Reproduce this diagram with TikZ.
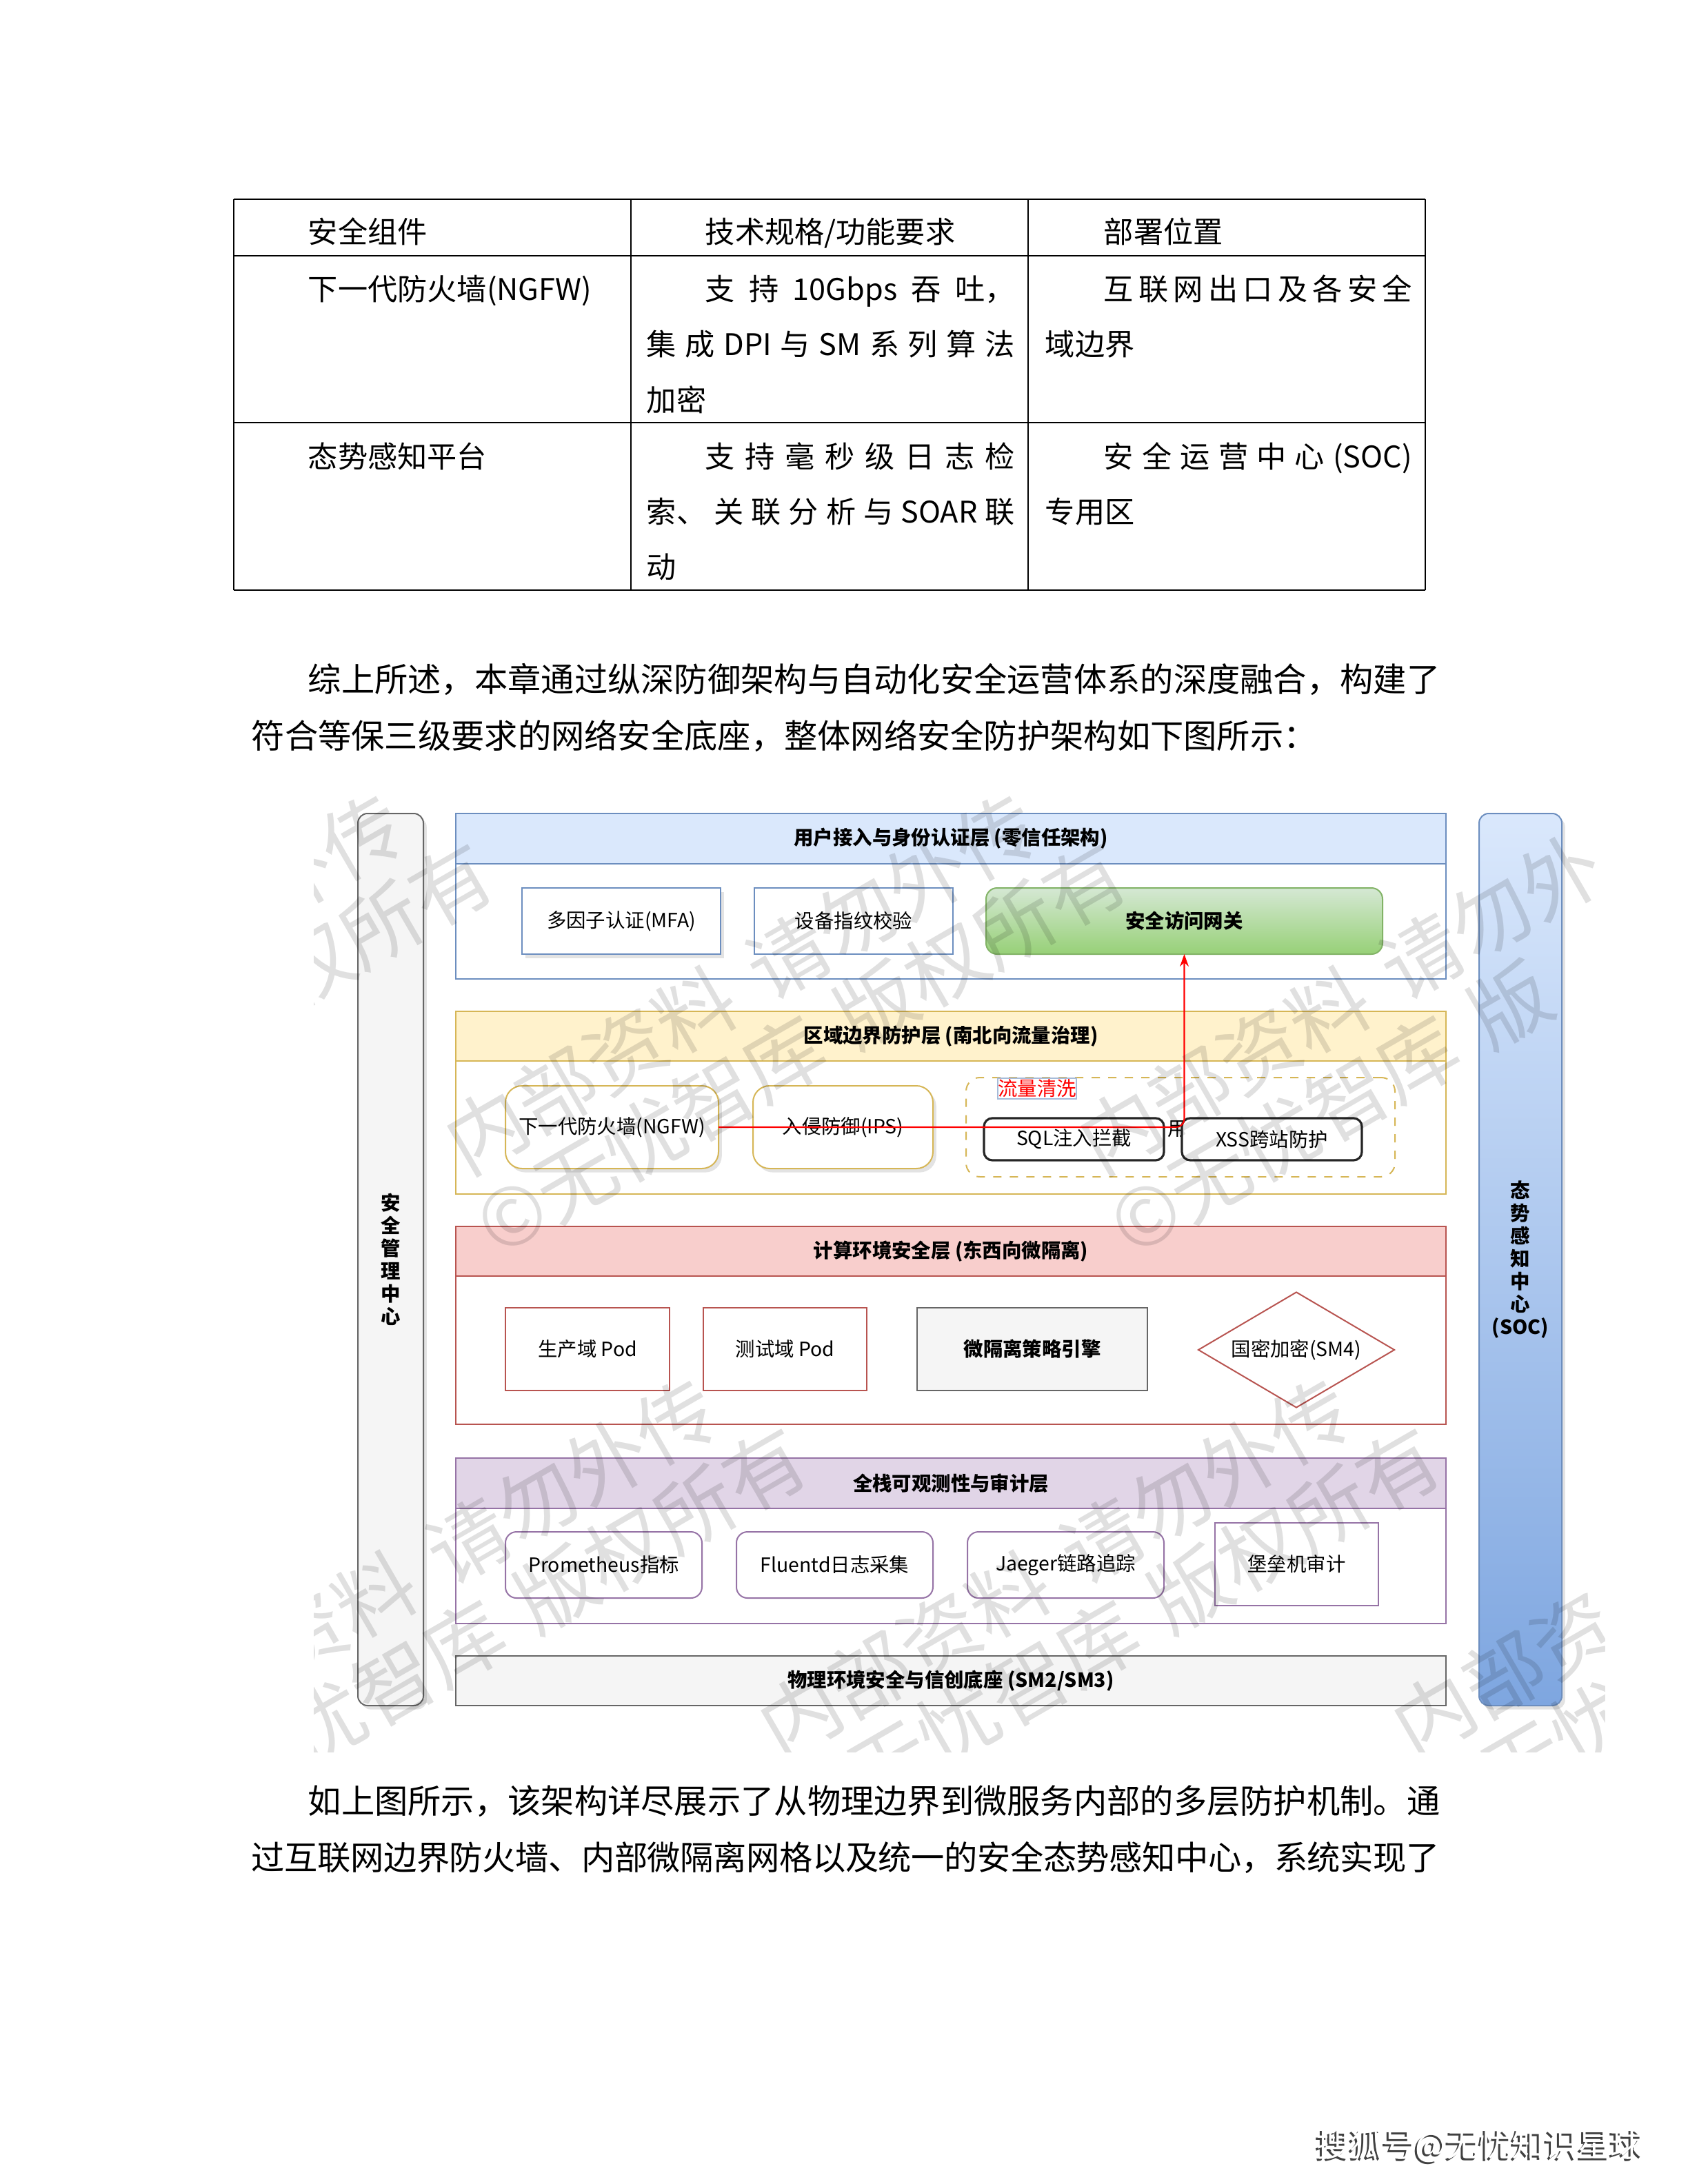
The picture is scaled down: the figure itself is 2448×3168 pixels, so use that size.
\documentclass[tikz,border=0pt]{standalone}
\usepackage{fontspec}
\setmainfont{Noto Sans CJK SC}
\usetikzlibrary{shadows,shapes.geometric,arrows.meta,calc}
\definecolor{bluef}{HTML}{DAE8FC}\definecolor{blues}{HTML}{6C8EBF}\definecolor{blueb}{HTML}{7EA6E0}
\definecolor{yelf}{HTML}{FFF2CC}\definecolor{yels}{HTML}{D6B656}
\definecolor{redf}{HTML}{F8CECC}\definecolor{reds}{HTML}{B85450}
\definecolor{purf}{HTML}{E1D5E7}\definecolor{purs}{HTML}{9673A6}
\definecolor{grayf}{HTML}{F5F5F5}\definecolor{grays}{HTML}{666666}
\definecolor{greenf}{HTML}{D5E8D4}\definecolor{greenb}{HTML}{97D077}\definecolor{greens}{HTML}{82B366}
\newcommand{\mytfont}{\fontsize{10.8pt}{13pt}\selectfont}
\newcommand{\mypfont}{\fontsize{12.07pt}{15pt}\selectfont}
\newcommand{\mydfont}{\fontsize{7.1pt}{8.25pt}\selectfont}
\newcommand{\mywfont}{\fontsize{29pt}{34pt}\selectfont}
\newcommand{\myffont}{\fontsize{11.9pt}{14pt}\selectfont}
% style, name, x1, y1, x2, y2, text
\newcommand{\mkbox}[7]{\node[#1, minimum width={(#5-#3)*0.25pt}, minimum height={(#6-#4)*0.25pt}] (#2) at ({(#3+#5)/2},{(#4+#6)/2}) {#7};}
\newcommand{\jl}[5]{\node[ttext] (#1) at (#2,#3) {\hbox to #4{#5}};}
% watermark tile: name, x, y, line1, line2
\newcommand{\wmk}[5]{\node[wm] (#1a) at (#2,#3) {#4};\node[wm] (#1b) at ({#2+45},{#3+118}) {#5};}
\begin{document}
\begin{tikzpicture}[x=0.25pt,y=-0.25pt,
  tbl/.style={line width=0.7pt,draw=black},
  tvl/.style={line width=0.5pt,draw=black},
  ttext/.style={anchor=base west,inner sep=0pt,font=\mytfont},
  ptext/.style={anchor=base west,inner sep=0pt,font=\mypfont},
  bx/.style={draw,inner sep=0pt,outer sep=0pt,line width=0.5pt,font=\mydfont,align=center,fill=white},
  shd/.style={drop shadow={shadow xshift=1.2pt,shadow yshift=-1.4pt,opacity=0.22}},
  redline/.style={draw=red,line width=0.55pt},
  wm/.style={font=\mywfont,text=black,text opacity=0.12,inner sep=0pt,rotate=30,anchor=base west}]
\useasboundingbox (0,0) rectangle (2448,3168);
\fill[white] (0,0) rectangle (2448,3168);

% ---------------- table ----------------
\draw[tbl] (339,289) -- (2067,289);
\draw[tbl] (339,371) -- (2067,371);
\draw[tbl] (339,613) -- (2067,613);
\draw[tbl] (339,856) -- (2067,856);
\foreach \xx in {339,915,1491,2067} \draw[tvl] (\xx,289) -- (\xx,856);

\node[ttext] (h1) at (446,353) {安全组件};
\node[ttext] (h2) at (1022,353) {技术规格/功能要求};
\node[ttext] (h3) at (1600,353) {部署位置};

\node[ttext] (r1c1) at (446,435) {下一代防火墙(NGFW)};
\jl{r1c2a}{1022}{435}{112.25pt}{支\hfill 持\hfill 10Gbps\hfill 吞\hfill 吐，}
\jl{r1c2b}{937}{515}{133.5pt}{集\hfill 成\hfill DPI\hfill 与\hfill SM\hfill 系\hfill 列\hfill 算\hfill 法}
\node[ttext] (r1c2c) at (937,596) {加密};
\jl{r1c3a}{1600}{435}{111.75pt}{互\hfill 联\hfill 网\hfill 出\hfill 口\hfill 及\hfill 各\hfill 安\hfill 全}
\node[ttext] (r1c3b) at (1515,515) {域边界};

\node[ttext] (r2c1) at (446,678) {态势感知平台};
\jl{r2c2a}{1022}{678}{112.25pt}{支\hfill 持\hfill 毫\hfill 秒\hfill 级\hfill 日\hfill 志\hfill 检}
\jl{r2c2b}{937}{758}{133.5pt}{索、\hfill 关\hfill 联\hfill 分\hfill 析\hfill 与\hfill SOAR\hfill 联}
\node[ttext] (r2c2c) at (937,838) {动};
\jl{r2c3a}{1600}{678}{111.75pt}{安\hfill 全\hfill 运\hfill 营\hfill 中\hfill 心\hfill (SOC)}
\node[ttext] (r2c3b) at (1515,758) {专用区};

% ---------------- paragraphs ----------------
\node[ptext] (p1a) at (446,1003) {综上所述，本章通过纵深防御架构与自动化安全运营体系的深度融合，构建了};
\node[ptext] (p1b) at (364,1085) {符合等保三级要求的网络安全底座，整体网络安全防护架构如下图所示：};
\node[ptext] (p2a) at (446,2630) {如上图所示，该架构详尽展示了从物理边界到微服务内部的多层防护机制。通};
\node[ptext] (p2b) at (364,2712) {\addfontfeature{LetterSpace=-0.9}过互联网边界防火墙、内部微隔离网格以及统一的安全态势感知中心，系统实现了};

% ---------------- diagram ----------------
% side bars
\mkbox{bx,fill=grayf,draw=grays,rounded corners=3.5pt,shd}{mgmt}{519}{1180}{614}{2474}{}
\node[font=\mydfont\bfseries,align=center,inner sep=0pt] (mgmtt) at (mgmt.center) {安\\全\\管\\理\\中\\心};
\mkbox{bx,top color=bluef,bottom color=blueb,draw=blues,rounded corners=3.5pt,shd}{soc}{2145}{1180}{2265}{2474}{}
\node[font=\mydfont\bfseries,align=center,inner sep=0pt] (soct) at (soc.center) {态\\势\\感\\知\\中\\心\\(SOC)};

% user access layer
\mkbox{bx,draw=blues}{userL}{661}{1180}{2097}{1420}{}
\mkbox{bx,fill=bluef,draw=blues}{userH}{661}{1180}{2097}{1253}{\bfseries 用户接入与身份认证层 (零信任架构)}
\mkbox{bx,draw=blues,shd}{mfa}{757}{1288}{1045}{1384}{多因子认证(MFA)}
\mkbox{bx,draw=blues}{dev}{1094}{1288}{1382}{1384}{设备指纹校验}
\mkbox{bx,top color=greenf,bottom color=greenb,draw=greens,rounded corners=4pt}{gw}{1430}{1288}{2005}{1384}{\bfseries 安全访问网关}

% boundary layer
\mkbox{bx,draw=yels}{bndL}{661}{1467}{2097}{1732}{}
\mkbox{bx,fill=yelf,draw=yels}{bndH}{661}{1467}{2097}{1539}{\bfseries 区域边界防护层 (南北向流量治理)}
\mkbox{bx,draw=yels,rounded corners=6pt,shd}{ngfw}{733}{1575}{1042}{1695}{下一代防火墙(NGFW)}
\mkbox{bx,draw=yels,rounded corners=6pt,shd}{ips}{1092}{1575}{1353}{1695}{入侵防御(IPS)}
\mkbox{bx,draw=yels,dashed,rounded corners=5pt,fill=none}{grp}{1401}{1563}{2023}{1707}{}
\mkbox{bx,draw=blues!60,text=red,line width=0.4pt}{clean}{1449}{1564}{1559}{1594}{流量清洗}
\mkbox{bx,draw=black!85,line width=0.8pt,rounded corners=3pt}{sql}{1427}{1622}{1688}{1683}{SQL注入拦截}
\node[font=\mydfont,inner sep=0pt] (lbl) at (1708,1638) {用};
\mkbox{bx,draw=black!85,line width=0.8pt,rounded corners=3pt}{xss}{1714}{1622}{1975}{1683}{XSS跨站防护}

% compute layer
\mkbox{bx,draw=reds}{cmpL}{661}{1779}{2097}{2066}{}
\mkbox{bx,fill=redf,draw=reds}{cmpH}{661}{1779}{2097}{1851}{\bfseries 计算环境安全层 (东西向微隔离)}
\mkbox{bx,draw=reds}{prod}{733}{1897}{971}{2017}{生产域 Pod}
\mkbox{bx,draw=reds}{test}{1020}{1897}{1257}{2017}{测试域 Pod}
\mkbox{bx,fill=grayf,draw=grays}{eng}{1330}{1897}{1664}{2017}{\bfseries 微隔离策略引擎}
\node[diamond,draw=reds,fill=white,line width=0.5pt,inner sep=0pt,aspect=1.7,minimum width=71.25pt,minimum height=42pt,font=\mydfont] (sm4) at (1880,1958) {国密加密(SM4)};

% observability layer
\mkbox{bx,draw=purs}{obsL}{661}{2115}{2097}{2355}{}
\mkbox{bx,fill=purf,draw=purs}{obsH}{661}{2115}{2097}{2188}{\bfseries 全栈可观测性与审计层}
\mkbox{bx,draw=purs,rounded corners=4pt}{prom}{733}{2222}{1018}{2318}{Prometheus指标}
\mkbox{bx,draw=purs,rounded corners=4pt}{flu}{1068}{2222}{1353}{2318}{Fluentd日志采集}
\mkbox{bx,draw=purs,rounded corners=4pt}{jae}{1403}{2222}{1688}{2318}{Jaeger链路追踪}
\mkbox{bx,draw=purs}{bas}{1762}{2209}{1999}{2329}{堡垒机审计}

% physical base
\mkbox{bx,fill=grayf,draw=grays}{phys}{661}{2402}{2097}{2474}{\bfseries 物理环境安全与信创底座 (SM2/SM3)}

% red flow
\draw[redline,rounded corners=3pt,-{Stealth[length=4.5pt,width=3.2pt]}] (ngfw.east) -| (gw.south);

% watermark
\begin{scope}
\clip (455,1141) rectangle (2327,2541);
\wmk{wa}{-242}{1707}{\phantom{内部资料\hspace{10pt}请勿}外传}{\phantom{©无忧智库\hspace{10pt}}版权所有}
\wmk{wb}{677}{1707}{内部资料\hspace{10pt}请勿外传}{©无忧智库\hspace{10pt}版权所有}
\wmk{wc}{1596}{1707}{内部资料\hspace{10pt}请勿外}{©无忧智库\hspace{10pt}版}
\wmk{wd}{213}{2555}{\phantom{内部}资料\hspace{10pt}请勿外传}{©无忧智库\hspace{10pt}版权所有}
\wmk{we}{1132}{2555}{内部资料\hspace{10pt}请勿外传}{©无忧智库\hspace{10pt}版权所有}
\wmk{wf}{2051}{2555}{内部资}{©无忧}
\end{scope}

% footer
\node[font=\myffont,text=black!75,anchor=west,inner sep=0pt] (ftsh) at (1906,3116) {搜狐号@无忧知识星球};
\node[font=\myffont,text=white,anchor=west,inner sep=0pt] (ft) at (1909,3113) {搜狐号@无忧知识星球};
\end{tikzpicture}
\end{document}
